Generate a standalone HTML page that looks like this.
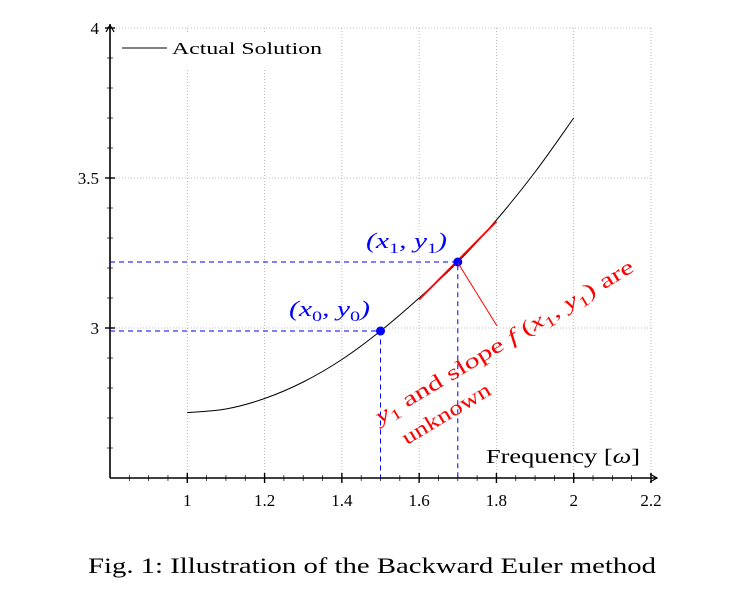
<!DOCTYPE html>
<html><head><meta charset="utf-8"><style>
body{margin:0;background:#fff;}
svg{display:block;font-family:"Liberation Serif",serif;}
</style></head><body>
<svg id="chart" width="731" height="598" viewBox="0 0 731 598" xmlns="http://www.w3.org/2000/svg">
<g id="grid"></g>
<rect x="116" y="32" width="210" height="36" fill="#fff"/>
<g id="axes"></g>
<g id="marks"></g>
<g>
<line x1="122" y1="48" x2="167" y2="48" stroke="#000" stroke-width="1"/>
<text x="172" y="54" font-size="17" textLength="150" lengthAdjust="spacingAndGlyphs">Actual Solution</text>
</g>
<text x="486" y="463" font-size="20" textLength="154" lengthAdjust="spacingAndGlyphs">Frequency [<tspan font-style="italic">ω</tspan>]</text>
<text x="289" y="316" font-size="22" fill="#0000ff" font-style="italic" textLength="81" lengthAdjust="spacingAndGlyphs">(x<tspan font-size="15" dy="5" font-style="normal">0</tspan><tspan dy="-5">, y</tspan><tspan font-size="15" dy="5" font-style="normal">0</tspan><tspan dy="-5">)</tspan></text>
<text x="366" y="248" font-size="22" fill="#0000ff" font-style="italic" textLength="81" lengthAdjust="spacingAndGlyphs">(x<tspan font-size="15" dy="5" font-style="normal">1</tspan><tspan dy="-5">, y</tspan><tspan font-size="15" dy="5" font-style="normal">1</tspan><tspan dy="-5">)</tspan></text>
<line x1="458" y1="263" x2="497" y2="326" stroke="#ff0000" stroke-width="1"/>
<g fill="#ff0000" font-size="21" transform="translate(380,424) rotate(-31)">
<text x="0" y="0" textLength="298" lengthAdjust="spacingAndGlyphs"><tspan font-style="italic">y</tspan><tspan font-size="15" dy="5">1</tspan><tspan dy="-5"> and slope </tspan><tspan font-style="italic">f</tspan> (<tspan font-style="italic">x</tspan><tspan font-size="15" dy="5">1</tspan><tspan dy="-5">, </tspan><tspan font-style="italic">y</tspan><tspan font-size="15" dy="5">1</tspan><tspan dy="-5">) are</tspan></text>
<text x="12" y="32" textLength="100" lengthAdjust="spacingAndGlyphs">unknown</text>
</g>
<text x="88" y="573" font-size="22" textLength="568" lengthAdjust="spacingAndGlyphs">Fig. 1: Illustration of the Backward Euler method</text>
</svg>
<script>
const xs=[1.0,1.1,1.2,1.3,1.4,1.5,1.6,1.7,1.8,1.9,2.0];
const ys=[2.718,2.73,2.765,2.82,2.895,2.99,3.10,3.22,3.36,3.52,3.70];
const pointX=[1.5,1.7];
const pointY=[2.99,3.22];
const tangentX=[1.6,1.8];
const tangentY=[3.095,3.355];
const xTicks=[1,1.2,1.4,1.6,1.8,2,2.2];
const xTickLabels=["1","1.2","1.4","1.6","1.8","2","2.2"];
const yTicks=[3,3.5,4];
const yTickLabels=["3","3.5","4"];
const X=v=>110+(v-0.8)*(541/1.4);
const Y=v=>478-(v-2.5)*300;
const NS="http://www.w3.org/2000/svg";
function mk(tag,attrs,parent,text){const e=document.createElementNS(NS,tag);for(const k in attrs)e.setAttribute(k,attrs[k]);if(text!==undefined)e.textContent=text;document.getElementById(parent).appendChild(e);return e;}
xTicks.forEach(v=>{if(v>0.8){const l=mk('line',{x1:X(v),y1:Y(4),x2:X(v),y2:478,stroke:'#aaa','stroke-width':0.8,'stroke-dasharray':'1,2'},'grid');

}});
yTicks.forEach(v=>{const l=mk('line',{x1:110,y1:Y(v),x2:X(2.2),y2:Y(v),stroke:'#aaa','stroke-width':0.8,'stroke-dasharray':'1,2'},'grid');

});
const ax=mk('path',{d:`M110,478 H${X(2.2)+6} M110,478 V${Y(4)-4}`,stroke:'#000','stroke-width':1.6,fill:'none'},'axes');


mk('path',{d:`M${X(2.2)-1},474 L${X(2.2)+6},478 L${X(2.2)-1},482 M106,${Y(4)+4} L110,${Y(4)-3} L114,${Y(4)+4}`,stroke:'#000','stroke-width':1.2,fill:'none'},'axes');
for(let v=0.85;v<2.2;v+=0.05){mk('line',{x1:X(v),y1:475,x2:X(v),y2:481,stroke:'#000','stroke-width':0.7},'axes');}
for(let v=2.6;v<4;v+=0.1){mk('line',{x1:107,y1:Y(v),x2:113,y2:Y(v),stroke:'#000','stroke-width':0.7},'axes');}
xTicks.forEach((v,i)=>{mk('line',{x1:X(v),y1:473,x2:X(v),y2:483,stroke:'#000','stroke-width':1.4},'axes');
const t=mk('text',{x:X(v),y:506,'text-anchor':'middle','font-size':17},'axes',xTickLabels[i]);

});
yTicks.forEach((v,i)=>{mk('line',{x1:105,y1:Y(v),x2:115,y2:Y(v),stroke:'#000','stroke-width':1.4},'axes');
const t=mk('text',{x:99,y:Y(v)+6,'text-anchor':'end','font-size':17},'axes',yTickLabels[i]);

});
const P=xs.map((x,i)=>[X(x),Y(ys[i])]);
let d=`M${P[0][0]},${P[0][1]}`;
for(let i=0;i<P.length-1;i++){const p0=P[Math.max(0,i-1)],p1=P[i],p2=P[i+1],p3=P[Math.min(P.length-1,i+2)];
d+=` C${p1[0]+(p2[0]-p0[0])/6},${p1[1]+(p2[1]-p0[1])/6} ${p2[0]-(p3[0]-p1[0])/6},${p2[1]-(p3[1]-p1[1])/6} ${p2[0]},${p2[1]}`;}
const c=mk('path',{d:d,stroke:'#000','stroke-width':1,fill:'none'},'marks');


pointX.forEach((x,i)=>{
const g=mk('path',{d:`M110,${Y(pointY[i])} H${X(x)} V478`,stroke:'#0000ff','stroke-width':1,'stroke-dasharray':'5,4',fill:'none'},'marks');

});
const tl=mk('line',{x1:X(tangentX[0]),y1:Y(tangentY[0]),x2:X(tangentX[1]),y2:Y(tangentY[1]),stroke:'#ff0000','stroke-width':1.8},'marks');


pointX.forEach((x,i)=>{
const p=mk('circle',{cx:X(x),cy:Y(pointY[i]),r:4.5,fill:'#0000ff'},'marks');

});
</script>
</body></html>
